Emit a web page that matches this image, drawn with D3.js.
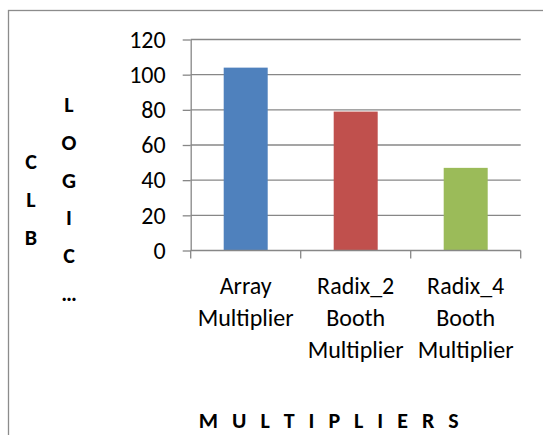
<!DOCTYPE html>
<html>
<head>
<meta charset="utf-8">
<script src="https://cdn.jsdelivr.net/npm/d3@7/dist/d3.min.js"></script>
<style>
  html, body { margin: 0; padding: 0; background: #ffffff; }
  svg { display: block; }
  text { font-family: Carlito, Calibri, Lato, sans-serif; fill: #000; }
</style>
</head>
<body>
<div id="chart"></div>
<script>
// Chart data
const categories = ["Array Multiplier", "Radix_2 Booth Multiplier", "Radix_4 Booth Multiplier"];
const clbValues = [104, 79, 47];
const barColors = ["#4F81BD", "#C0504D", "#9BBB59"];
const yTicks = [0, 20, 40, 60, 80, 100, 120];
// Stacked (one letter per line) axis title, wrapped into two columns
const yTitleColumns = [["C", "L", "B"], ["L", "O", "G", "I", "C", "…"]];
const xTitle = "M U L T I P L I E R S";

const W = 543, H = 435;
const plot = { left: 190.7, right: 520.7, top: 39.5, bottom: 250.5 };
const gridColor = "#878787";
const labelSize = 24;
const titleSize = 22;

const svg = d3.select("#chart").append("svg")
  .attr("width", W).attr("height", H);

// Chart area frame
svg.append("rect")
  .attr("x", 8.5).attr("y", 10.5)
  .attr("width", W + 20).attr("height", H + 20)
  .attr("fill", "#fff")
  .attr("stroke", "#8c8c8c").attr("stroke-width", 1.3);

const x = d3.scaleBand()
  .domain(categories)
  .range([plot.left, plot.right])
  .paddingInner(0.6)
  .paddingOuter(0.3);

const y = d3.scaleLinear()
  .domain([0, 120])
  .range([plot.bottom, plot.top]);

// Horizontal gridlines
svg.append("g")
  .selectAll("line")
  .data(yTicks.filter(d => d > 0))
  .join("line")
  .attr("x1", plot.left).attr("x2", plot.right)
  .attr("y1", d => y(d)).attr("y2", d => y(d))
  .attr("stroke", gridColor).attr("stroke-width", 1.3);

// Bars
svg.append("g")
  .selectAll("rect")
  .data(categories)
  .join("rect")
  .attr("x", d => x(d))
  .attr("width", x.bandwidth())
  .attr("y", (d, i) => y(clbValues[i]))
  .attr("height", (d, i) => y(0) - y(clbValues[i]))
  .attr("fill", (d, i) => barColors[i]);

// Y axis
const yAxis = svg.append("g")
  .attr("transform", `translate(${plot.left},0)`)
  .call(d3.axisLeft(y).tickValues(yTicks).tickSize(8).tickPadding(17).tickSizeOuter(0));
yAxis.select(".domain").attr("stroke", gridColor).attr("stroke-width", 1.3);
yAxis.selectAll(".tick line").attr("stroke", gridColor).attr("stroke-width", 1.3);
yAxis.selectAll(".tick text")
  .attr("font-size", labelSize)
  .attr("font-family", "Carlito, Calibri, Lato, sans-serif")
  .attr("fill", "#000");

// X axis: tick marks on band boundaries
const boundaries = categories.map(d => x(d) - (x.step() - x.bandwidth()) / 2)
  .concat([plot.right]);
const xAxis = svg.append("g");
xAxis.append("line")
  .attr("x1", plot.left).attr("x2", plot.right)
  .attr("y1", y(0)).attr("y2", y(0))
  .attr("stroke", gridColor).attr("stroke-width", 1.3);
xAxis.selectAll("line.tick")
  .data(boundaries)
  .join("line")
  .attr("class", "tick")
  .attr("x1", d => d).attr("x2", d => d)
  .attr("y1", y(0)).attr("y2", y(0) + 8)
  .attr("stroke", gridColor).attr("stroke-width", 1.3);

// Category labels, wrapped word by word
const lineHeight = 32;
svg.append("g")
  .selectAll("text")
  .data(categories)
  .join("text")
  .attr("x", d => x(d) + x.bandwidth() / 2)
  .attr("y", 293.5)
  .attr("text-anchor", "middle")
  .attr("font-size", labelSize)
  .each(function(d) {
    const t = d3.select(this);
    d.split(" ").forEach((w, i) => {
      t.append("tspan")
        .attr("x", x(d) + x.bandwidth() / 2)
        .attr("dy", i === 0 ? 0 : lineHeight)
        .text(w);
    });
  });

// Y axis title, stacked letters
const colX = [31, 69];
const colStartY = [169, 112];
const letterStep = 37.8;
yTitleColumns.forEach((col, ci) => {
  svg.append("g")
    .selectAll("text")
    .data(col)
    .join("text")
    .attr("x", colX[ci])
    .attr("y", (d, i) => colStartY[ci] + i * letterStep)
    .attr("text-anchor", "middle")
    .attr("font-size", titleSize)
    .attr("font-weight", "bold")
    .text(d => d);
});

// X axis title
svg.append("text")
  .attr("x", 331)
  .attr("y", 428)
  .attr("text-anchor", "middle")
  .attr("font-size", titleSize)
  .attr("font-weight", "bold")
  .attr("letter-spacing", 4.5)
  .text(xTitle);
</script>
</body>
</html>
